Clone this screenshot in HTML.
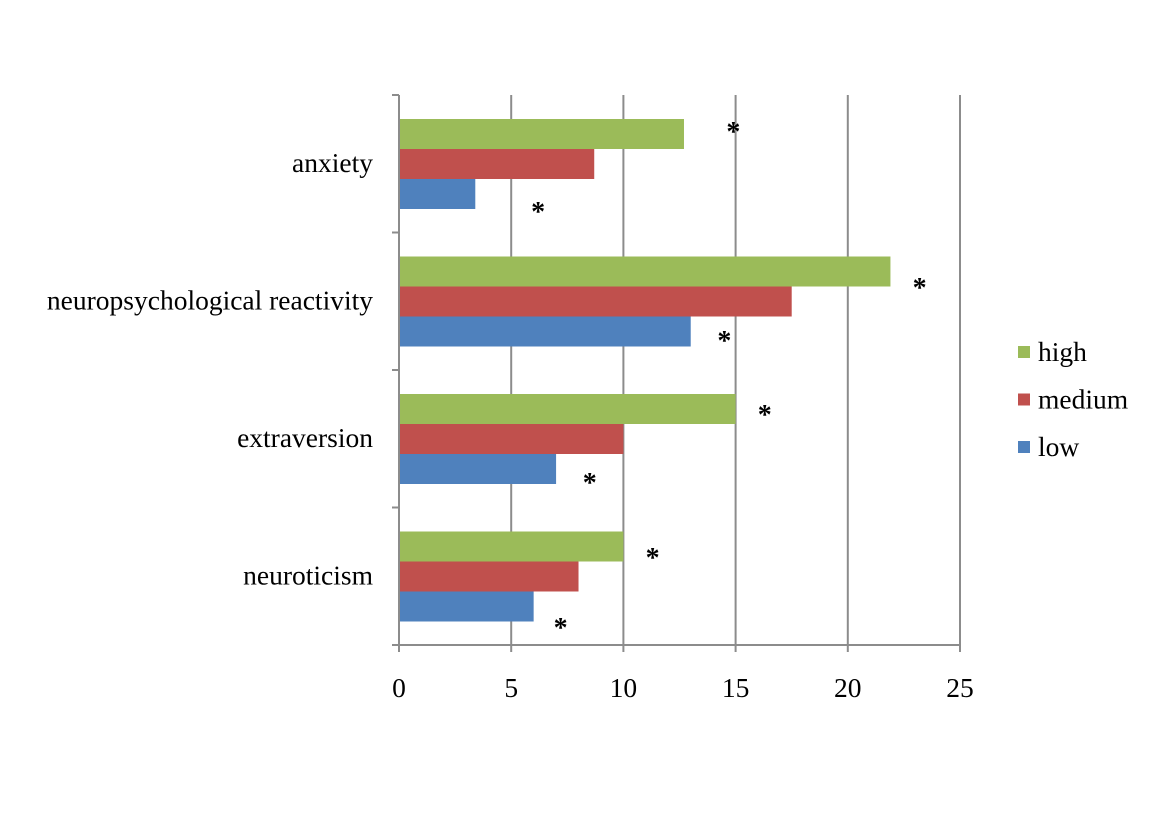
<!DOCTYPE html>
<html><head><meta charset="utf-8"><style>
html,body{margin:0;padding:0;background:#fff;}
svg{display:block;font-family:"Liberation Serif",serif;}
</style></head><body>
<svg id="chart" width="1166" height="827"></svg>
<script>
const categories = ["anxiety","neuropsychological reactivity","extraversion","neuroticism"];
const seriesNames = ["high","medium","low"];
const highValues = [12.7,21.9,15.0,10.0];
const mediumValues = [8.7,17.5,10.0,8.0];
const lowValues = [3.4,13.0,7.0,6.0];
const starHigh = [14.9,23.2,16.3,11.3];
const starLow = [6.2,14.5,8.5,7.2];
const xTicks = [0,5,10,15,20,25];
const colors = ["#9BBB59","#C0504D","#4F81BD"];
const starHighDy = [32,50.5,40,45.5];
const starLowDy = [112,103.5,108,115.5];

const svg = document.getElementById('chart');
const NS = 'http://www.w3.org/2000/svg';
const x0=399, x1=960, yTop=95, yBot=645, xMax=25;
const band=(yBot-yTop)/categories.length;
const xs = v => x0 + (x1-x0)*v/xMax;
const bandTop = i => yTop + i*band;
function mk(tag, attrs){const e=document.createElementNS(NS,tag);for(const k in attrs)e.setAttribute(k,attrs[k]);svg.appendChild(e);return e;}

xTicks.forEach((t,i)=>{
  if(t===0) return;
  const g=mk('line',{x1:xs(t),x2:xs(t),y1:yTop,y2:yBot,stroke:'#8c8c8c','stroke-width':2});
  
  
});
const all=[highValues,mediumValues,lowValues];
const bh=30;
categories.forEach((c,i)=>{
  const top=bandTop(i)+24;
  all.forEach((vals,s)=>{
    const r=mk('rect',{x:x0,y:top+s*bh,width:xs(vals[i])-x0,height:bh,fill:colors[s]});
    
    
  });
  const a1=mk('text',{x:xs(starHigh[i]),y:bandTop(i)+starHighDy[i]+14,'font-size':28,'font-weight':'bold','text-anchor':'middle'});
  a1.textContent='*';
  
  
  const a2=mk('text',{x:xs(starLow[i]),y:bandTop(i)+starLowDy[i]+14,'font-size':28,'font-weight':'bold','text-anchor':'middle'});
  a2.textContent='*';
  
  
  const lb=mk('text',{x:373,y:bandTop(i)+band/2+8,'font-size':27.5,'text-anchor':'end'});
  lb.textContent=c;
  
  
});
const ya=mk('line',{x1:x0,x2:x0,y1:yTop,y2:yBot,stroke:'#8c8c8c','stroke-width':2});


const xa=mk('line',{x1:x0,x2:x1,y1:yBot,y2:yBot,stroke:'#8c8c8c','stroke-width':2});


for(let i=0;i<=categories.length;i++){
  const t=mk('line',{x1:392,x2:x0,y1:bandTop(i),y2:bandTop(i),stroke:'#8c8c8c','stroke-width':2});
  
  
}
xTicks.forEach(t=>{
  const tk=mk('line',{x1:xs(t),x2:xs(t),y1:yBot,y2:yBot+7,stroke:'#8c8c8c','stroke-width':2});
  
  
  const tl=mk('text',{x:xs(t),y:697,'font-size':27.5,'text-anchor':'middle'});
  tl.textContent=t;
  
  
});
seriesNames.forEach((n,s)=>{
  const y=352+s*47.5;
  const sq=mk('rect',{x:1018,y:y-6,width:12,height:12,fill:colors[s]});
  
  
  const t=mk('text',{x:1038,y:y+9,'font-size':27.5});
  t.textContent=n;
  
  
});
</script>
</body></html>
